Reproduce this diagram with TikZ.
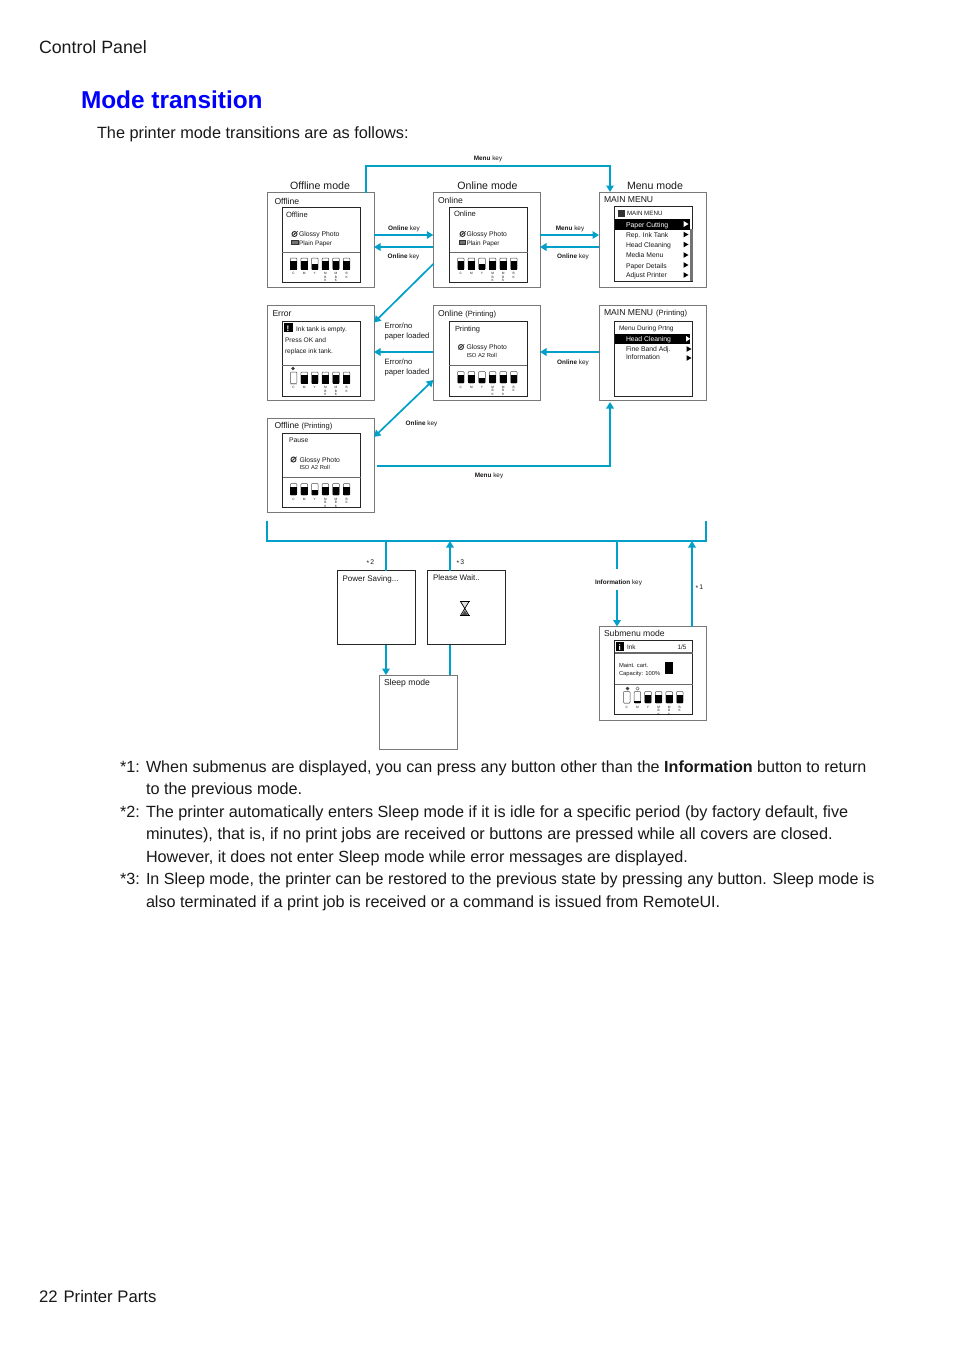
\documentclass[tikz,border=0pt]{standalone}
\usepackage{fontspec}
\setmainfont{Liberation Sans}
\usetikzlibrary{arrows.meta}
\definecolor{flow}{RGB}{0,160,200}
\definecolor{ttl}{RGB}{0,0,255}
\definecolor{ink}{RGB}{25,25,25}
\definecolor{edge}{RGB}{120,120,120}
\definecolor{band}{RGB}{105,105,105}
\newcounter{tn}
\tikzset{
  txt/.style={inner sep=0pt,outer sep=0pt,anchor=base west,text=ink},
  ctxt/.style={txt,anchor=base},
  outerbox/.style={draw=edge,line width=0.9pt,fill=white,inner sep=0pt,outer sep=0pt,anchor=north west},
  innerbox/.style={draw=black!85,line width=0.8pt,fill=white,inner sep=0pt,outer sep=0pt,anchor=north west},
  flowline/.style={draw=flow,line width=1.7pt},
  flowarrow/.style={flowline,-{Triangle[length=6.5pt,width=7.5pt]}},
  flowboth/.style={flowline,{Triangle[length=6.5pt,width=7.5pt]}-{Triangle[length=6.5pt,width=7.5pt]}},
  tankbox/.style={draw=black!70,line width=0.5pt,rounded corners=0.8pt},
  divider/.style={draw=band,line width=1pt}
}
% #1 name, #2..#5 = x1,y1,x2,y2, #6 style
\newcommand\bx[6]{\node[#6,minimum width=#4pt-#2pt,minimum height=#5pt-#3pt] (#1) at (#2,#3) {};}
% #1 style, #2 x, #3 baseline y, #4 size, #5 text
\newcommand\tx[5][txt]{\stepcounter{tn}\node[#1,font=\fontsize{#4}{#4}\selectfont] (t\arabic{tn}) at (#2,#3) {#5};}
\newcommand\keylabel[4]{\tx[ctxt]{#1}{#2}{6.4}{\textbf{#3} #4}}
\newcommand\tanks[3]{%
  \foreach \f/\l [count=\i from 0] in #3{%
    \pgfmathsetmacro\xa{#1+\i*10.6}\pgfmathsetmacro\xb{\xa+6.6}\pgfmathsetmacro\ya{#2+11.5}\pgfmathsetmacro\yb{\ya-\f*11.5}
    \draw[tankbox] (\xa,#2) rectangle (\xb,\ya);
    \fill[black] (\xa,\ya) rectangle (\xb,\yb);
    \pgfmathsetmacro\xc{\xa+3.3}\pgfmathsetmacro\yc{\ya+3}
    \stepcounter{tn}\node[inner sep=0pt,anchor=north,align=center,text=ink,font=\fontsize{3.2}{3.5}\selectfont] (t\arabic{tn}) at (\xc,\yc) {\l};
  }}
\newcommand\normalinks{.72/C,.72/M,.45/Y,.72/M\\B\\K,.72/M\\B\\K,.72/B\\K}
\newcommand\errinks{0/C,.72/M,.72/Y,.72/M\\B\\K,.72/M\\B\\K,.72/B\\K}
\newcommand\subinks{0/C,.15/M,.72/Y,.72/M\\B\\K,.72/M\\B\\K,.72/B\\K}
\newcommand\disc[2]{\draw[black!80,line width=1pt] (#1,#2) circle (2.5pt);\fill[black!80] (#1,#2) circle (0.8pt);\draw[black!80,line width=0.5pt] (#1-2.8,#2+2.4) -- (#1+3.4,#2-2.8);}
\newcommand\paperic[2]{\draw[black!80,fill=black!55,line width=0.5pt] (#1-3,#2-2) rectangle (#1+3.5,#2+2);}
\newcommand\tri[2]{\fill[black] (#1,#2-2.8) -- (#1+5,#2) -- (#1,#2+2.8) -- cycle;}
\begin{document}
\begin{tikzpicture}[x=1pt,y=-1pt]
\useasboundingbox (0,0) rectangle (954,1350);
\fill[white] (0,0) rectangle (954,1350);
% page text
\tx{39}{53}{17.8}{Control Panel}
\tx{81}{108.5}{24.4}{\textcolor{ttl}{\textbf{Mode transition}}}
\tx{97}{138}{16.3}{The printer mode transitions are as follows:}
\tx{39}{1302}{16.7}{22\hspace{6pt}Printer Parts}
% mode titles
\tx[ctxt]{320}{189}{10.6}{Offline mode}
\tx[ctxt]{487.5}{189}{10.6}{Online mode}
\tx[ctxt]{655}{189}{10.6}{Menu mode}
% outer boxes
\bx{off}{267.5}{192.5}{374}{287.5}{outerbox}
\bx{onl}{433.3}{192.5}{540}{287.5}{outerbox}
\bx{men}{599}{192.5}{706}{287.5}{outerbox}
\bx{err}{267.5}{305.5}{374}{400.5}{outerbox}
\bx{onp}{433.3}{305.5}{540}{400.5}{outerbox}
\bx{mep}{599}{305.5}{706}{400}{outerbox}
\bx{ofp}{267.5}{418}{374}{512.5}{outerbox}
\bx{sub}{599}{626.5}{706}{720.5}{outerbox}
\bx{pws}{337.5}{570.5}{415.5}{644.5}{innerbox}
\bx{plw}{427.5}{570.5}{505.5}{644.5}{innerbox}
\bx{slp}{379.5}{675}{457.5}{749.5}{outerbox}
% Offline
\tx{274.5}{204.5}{8.6}{Offline}
\bx{offi}{282}{207.5}{360}{282.5}{innerbox}
\draw[divider] (offi.west |- 0,252) -- (offi.east |- 0,252);
\tx{286}{217}{7.6}{Offline}
\disc{294.5}{234}
\tx{299}{236.8}{6.8}{Glossy Photo}
\paperic{294.5}{242.5}
\tx{299}{245}{6.4}{Plain Paper}
\tanks{290.3}{258}{\normalinks}
% Online
\tx{438}{203}{8.6}{Online}
\bx{onli}{449.5}{207.5}{527.5}{282.5}{innerbox}
\draw[divider] (onli.west |- 0,252) -- (onli.east |- 0,252);
\tx{454}{216.5}{7.6}{Online}
\disc{462.5}{234}
\tx{466.5}{236.8}{6.8}{Glossy Photo}
\paperic{462}{242.5}
\tx{466.5}{245}{6.4}{Plain Paper}
\tanks{457.5}{258}{\normalinks}
% Main menu
\tx{604}{202.5}{8.6}{MAIN MENU}
\bx{meni}{614.8}{206.5}{692.8}{281}{innerbox}
\fill[black!55] (690.3,229) rectangle (692.6,280.6);
\fill[black] (meni.north west |- 0,218.5) rectangle (690.3,229.5);
\fill[black!80] (617.5,210) rectangle (624.5,217);
\tx{627}{215.5}{6.2}{MAIN MENU}
\tx{626}{227}{6.9}{\textcolor{white}{Paper Cutting}}
\fill[white] (683.5,221) -- (688.5,224) -- (683.5,227) -- cycle;
\tx{626}{237}{6.8}{Rep. Ink Tank}
\tx{626}{247}{6.8}{Head Cleaning}
\tx{626}{257}{6.8}{Media Menu}
\tx{626}{268}{6.8}{Paper Details}
\tx{626}{277.5}{6.8}{Adjust Printer}
\tri{683.5}{234.5}\tri{683.5}{244.5}\tri{683.5}{255}\tri{683.5}{265}\tri{683.5}{275}
% Error
\tx{272.5}{316}{8.6}{Error}
\bx{erri}{282}{321}{360}{396}{innerbox}
\draw[divider] (erri.west |- 0,365) -- (erri.east |- 0,365);
\fill[black] (283.5,323) rectangle (292.5,332);
\tx[ctxt]{288}{331}{8}{\textcolor{white}{\textbf{!}}}
\tx{296}{331}{6.6}{Ink tank is empty.}
\tx{285}{342}{6.6}{Press OK and}
\tx{285}{353.5}{6.6}{replace ink tank.}
\fill[black!75] (293,368.5) circle (1.9pt);
\tanks{290.3}{372}{\errinks}
% Online printing
\tx{438}{316}{8.6}{Online {\fontsize{7.6}{8}\selectfont (Printing)}}
\bx{onpi}{449}{321}{527}{396}{innerbox}
\draw[divider] (onpi.west |- 0,365) -- (onpi.east |- 0,365);
\tx{455}{331}{7.4}{Printing}
\disc{461}{347}
\tx{466.5}{349.5}{6.8}{Glossy Photo}
\tx{466.5}{357}{5.8}{ISO A2 Roll}
\tanks{457.5}{371.5}{\normalinks}
% Main menu printing
\tx{604}{315.5}{8.6}{MAIN MENU\hspace{3pt}{\fontsize{7.6}{8}\selectfont (Printing)}}
\bx{mepi}{614.8}{321}{692.8}{396}{innerbox}
\tx{619}{330.5}{6.5}{Menu During Prtng}
\fill[black] (mepi.north west |- 0,333.5) rectangle (690.3,344);
\tx{626}{341.5}{6.8}{\textcolor{white}{Head Cleaning}}
\fill[white] (686,336) -- (690.3,338.8) -- (686,341.6) -- cycle;
\tx{626}{351.5}{6.8}{Fine Band Adj.}
\tx{626}{359.5}{6.8}{Information}
\tri{686.5}{349}\tri{686.5}{358}
% Offline printing
\tx{274.5}{428.5}{8.6}{Offline {\fontsize{7.6}{8}\selectfont (Printing)}}
\bx{ofpi}{282.5}{433.5}{360.5}{507.5}{innerbox}
\draw[divider] (ofpi.west |- 0,477) -- (ofpi.east |- 0,477);
\tx{289}{442.5}{6.8}{Pause}
\disc{293.5}{459.5}
\tx{299.5}{462}{6.8}{Glossy Photo}
\tx{299.5}{469}{5.8}{ISO A2 Roll}
\tanks{290.3}{483.5}{\normalinks}
% Submenu
\tx{604}{636}{8.6}{Submenu mode}
\bx{subi}{614.5}{640.5}{692.5}{714.5}{innerbox}
\draw[draw=band,line width=2pt] (subi.west |- 0,653) -- (subi.east |- 0,653);
\draw[divider] (subi.west |- 0,684) -- (subi.east |- 0,684);
\fill[black] (615.5,642) rectangle (624,651);
\tx[ctxt]{619.7}{650}{8}{\textcolor{white}{\textbf{i}}}
\tx{627}{649}{6.4}{Ink}
\tx{677.5}{649}{6.4}{1/5}
\tx{619}{667}{5.8}{Maint. cart.}
\tx{619}{675}{5.8}{Capacity: 100\%}
\draw[black,fill=black,line width=0.4pt] (665.5,662.5) rectangle (672,673);
\draw[black!70,line width=0.4pt] (627.5,688.5) circle (1.7pt);
\fill[black!80] (627.5,688.5) circle (1.4pt);
\draw[black!70,line width=0.4pt] (637.5,688.5) circle (1.7pt);
\tanks{623.5}{691.5}{\subinks}
% plain screens
\tx{342.5}{581}{8}{Power Saving...}
\tx{433}{580.5}{8}{Please Wait..}
\tx{384}{685}{8.6}{Sleep mode}
% hourglass
\draw[black,line width=0.7pt,fill=black!12] (460.5,601.5) -- (469,601.5) -- (464.8,608.5) -- (469,615.5) -- (460.5,615.5) -- (464.8,608.5) -- cycle;
\fill[black!70] (461.8,615) -- (464.8,610.5) -- (467.8,615) -- cycle;
\draw[black,line width=1.1pt] (460,601.5) -- (469.5,601.5) (460,615.5) -- (469.5,615.5);
% connectors, top
\coordinate (topa) at (366,192.5);
\coordinate (topb) at (610,192);
\draw[flowarrow] (topa) |- (610,166) -- (topb);
\draw[flowarrow] (off.east |- 0,235) -- (onl.west |- 0,235);
\draw[flowarrow] (onl.west |- 0,247) -- (off.east |- 0,247);
\draw[flowarrow] (onl.east |- 0,235) -- (men.west |- 0,235);
\draw[flowarrow] (men.west |- 0,247) -- (onl.east |- 0,247);
\draw[flowarrow] (onl.west |- 0,264) -- (err.east |- 0,322.5);
\draw[flowarrow] (onp.west |- 0,352) -- (err.east |- 0,352);
\draw[flowarrow] (mep.west |- 0,352) -- (onp.east |- 0,352);
\draw[flowboth] (ofp.east |- 0,437) -- (onp.west |- 0,380);
\coordinate (mkb) at (376.5,466);
\coordinate (mkc) at (610,402);
\draw[flowarrow] (mkb) -| (mkc);
% bracket
\draw[flowline] (267,520.5) |- (706,541) -- (706,520.5);
\coordinate (bra) at (386,541);
\coordinate (brb) at (450,541);
\coordinate (brc) at (617,541);
\coordinate (brd) at (692,541);
\coordinate (infa) at (617,568.5);
\coordinate (infb) at (617,590);
\draw[flowline] (bra) -- (pws.north -| bra);
\draw[flowarrow] (pws.south -| bra) -- (slp.north -| bra);
\draw[flowarrow] (plw.north -| brb) -- (brb);
\draw[flowline] (slp.north -| brb) -- (plw.south -| brb);
\draw[flowline] (brc) -- (infa);
\draw[flowarrow] (infb) -- (sub.north -| infb);
\draw[flowarrow] (sub.north -| brd) -- (brd);
% key labels
\keylabel{488}{160.5}{Menu}{key}
\keylabel{404}{230}{Online}{key}
\keylabel{403.5}{258}{Online}{key}
\keylabel{570}{230}{Menu}{key}
\keylabel{573}{258}{Online}{key}
\keylabel{573}{364.5}{Online}{key}
\keylabel{421.5}{425}{Online}{key}
\keylabel{489}{477}{Menu}{key}
\keylabel{618.5}{584}{Information}{key}
\tx{384.5}{328}{7.7}{Error/no}
\tx{384.5}{338}{7.7}{paper loaded}
\tx{384.5}{364.5}{7.7}{Error/no}
\tx{384.5}{374}{7.7}{paper loaded}
\tx{366.5}{564}{6.8}{\raisebox{-1pt}{*}\,2}
\tx{456.5}{564}{6.8}{\raisebox{-1pt}{*}\,3}
\tx{695.5}{589}{6.8}{\raisebox{-1pt}{*}\,1}
% notes
\tx{120}{772}{16.2}{*1:}
\tx{146}{772}{16.1}{When submenus are displayed, you can press any button other than the \textbf{Information} button to return}
\tx{146}{794.5}{16.25}{to the previous mode.}
\tx{120}{817}{16.2}{*2:}
\tx{146}{817}{16.22}{The printer automatically enters Sleep mode if it is idle for a specific period (by factory default, five}
\tx{146}{839.5}{16.3}{minutes), that is, if no print jobs are received or buttons are pressed while all covers are closed.}
\tx{146}{862}{16.17}{However, it does not enter Sleep mode while error messages are displayed.}
\tx{120}{884.5}{16.2}{*3:}
\tx{146}{884.5}{16.07}{In Sleep mode, the printer can be restored to the previous state by pressing any button. Sleep mode is}
\tx{146}{907}{16.17}{also terminated if a print job is received or a command is issued from RemoteUI.}
\end{tikzpicture}
\end{document}
